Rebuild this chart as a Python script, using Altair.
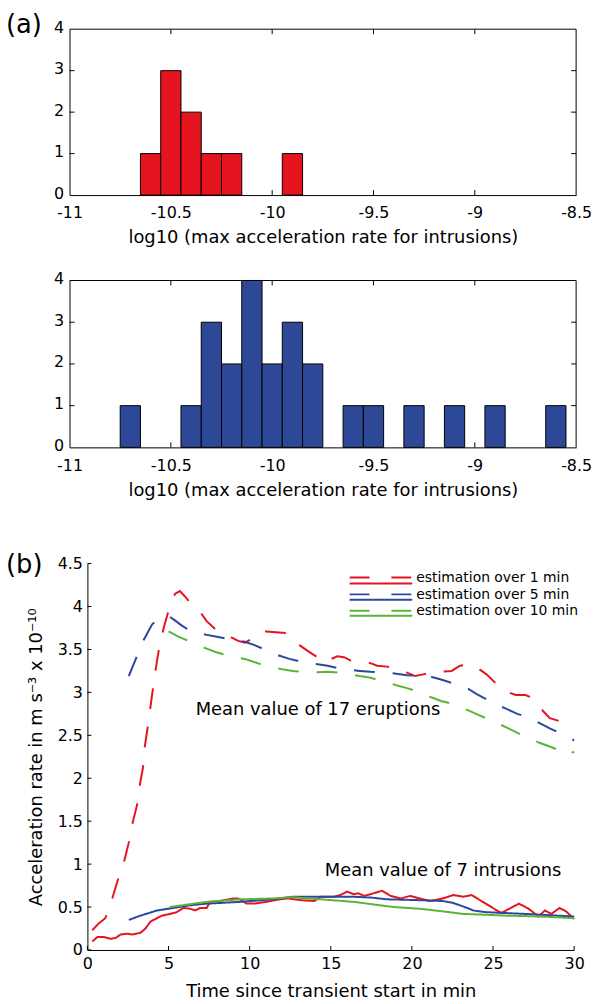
import altair as alt
import pandas as pd

FONT = "DejaVu Sans"
RED = "#e6141e"
BLUE_BAR = "#2e4898"
BLUE = "#2a48a0"
GREEN = "#5cb435"

# ---------------- panel (a): histograms ----------------
hist1_centers = [-10.6, -10.5, -10.4, -10.3, -10.2, -9.9]
hist1_counts = [1, 3, 2, 1, 1, 1]
hist2_centers = [-10.7, -10.4, -10.3, -10.2, -10.1, -10.0, -9.9, -9.8,
                 -9.6, -9.5, -9.3, -9.1, -8.9, -8.6]
hist2_counts = [1, 1, 3, 2, 4, 2, 3, 2, 1, 1, 1, 1, 1, 1]
bin_width = 0.1
hist_xticks = [-11, -10.5, -10, -9.5, -9, -8.5]
hist_yticks = [0, 1, 2, 3, 4]
hist_xtitle = "log10 (max acceleration rate for intrusions)"

# ---------------- panel (b): curves ----------------
e1_t = [0.3, 0.7, 1.1, 1.5, 1.85, 2.25, 2.55, 2.76, 3.06, 3.21, 3.43, 3.53, 3.72, 3.92,
        4.19, 4.39, 4.7, 5.1, 5.41, 5.7, 6.0, 6.3, 6.64, 6.94, 7.35, 7.8, 8.27, 8.78,
        9.29, 9.7, 10.2, 10.6, 11.0, 11.6, 12.25, 12.66, 13.07, 13.6, 14.09, 14.6, 14.9,
        15.41, 15.82, 16.23, 16.8, 17.45, 17.86, 18.47, 19.1, 19.7, 20.2, 20.7, 21.2,
        21.8, 22.45, 22.96, 23.5, 24.0, 24.6, 25.2, 25.8, 26.4, 27.0, 27.5, 28.0, 28.5,
        29.2, 30.0]
e1_v = [0.23, 0.31, 0.37, 0.58, 0.80, 1.02, 1.25, 1.46, 1.69, 1.90, 2.13, 2.36, 2.60, 2.88,
        3.25, 3.48, 3.75, 4.02, 4.15, 4.18, 4.12, 4.05, 4.00, 3.94, 3.83, 3.75, 3.69, 3.65,
        3.60, 3.58, 3.63, 3.70, 3.71, 3.70, 3.69, 3.62, 3.55, 3.48, 3.42, 3.35, 3.38,
        3.42, 3.41, 3.37, 3.35, 3.34, 3.31, 3.30, 3.27, 3.23, 3.19, 3.21, 3.23,
        3.24, 3.25, 3.31, 3.33, 3.29, 3.21, 3.10, 3.01, 2.97, 2.97, 2.93, 2.80, 2.70,
        2.66, 2.58]

e5_t = [2.55, 2.96, 3.47, 3.98, 4.4, 5.0, 5.31, 5.8, 6.23, 6.8, 7.35, 7.9, 8.47, 9.1, 9.7,
        10.3, 10.8, 11.23, 11.8, 12.45, 13.37, 14.1, 14.8, 15.5, 16.23, 16.8, 17.45, 18.58,
        19.7, 20.5, 21.23, 21.8, 22.45, 23.0, 23.48, 24.0, 24.6, 25.2, 25.8, 26.5, 27.3,
        27.9, 28.5, 29.2, 30.0]
e5_v = [3.19, 3.38, 3.61, 3.79, 3.86, 3.89, 3.85, 3.78, 3.73, 3.69, 3.67, 3.65, 3.63, 3.61,
        3.59, 3.55, 3.51, 3.47, 3.43, 3.39, 3.35, 3.33, 3.31, 3.28, 3.26, 3.25, 3.24, 3.23,
        3.20, 3.19, 3.18, 3.15, 3.11, 3.08, 3.04, 2.98, 2.92, 2.86, 2.81, 2.75, 2.70,
        2.64, 2.58, 2.52, 2.44]

e10_t = [5.0, 5.6, 6.23, 6.8, 7.35, 7.9, 8.47, 9.1, 9.7, 10.5, 11.23, 12.0, 12.66, 13.6,
         14.8, 15.5, 16.23, 16.8, 17.45, 18.0, 18.58, 19.1, 19.7, 20.5, 21.23, 21.8, 22.45,
         23.0, 23.48, 24.2, 24.8, 25.4, 25.95, 26.6, 27.3, 27.9, 28.5, 29.0, 29.4, 29.7, 30.0]
e10_v = [3.71, 3.65, 3.60, 3.55, 3.51, 3.47, 3.44, 3.41, 3.39, 3.34, 3.30, 3.27, 3.25, 3.23,
         3.24, 3.23, 3.21, 3.19, 3.17, 3.14, 3.11, 3.08, 3.05, 3.00, 2.94, 2.90, 2.87,
         2.83, 2.79, 2.73, 2.68, 2.63, 2.58, 2.52, 2.46, 2.41, 2.37, 2.33, 2.28, 2.28, 2.31]

i1_t = [0.31, 0.61, 1.02, 1.23, 1.43, 1.74, 2.04, 2.45, 2.76, 3.27, 3.58, 3.88, 4.29, 4.59,
        5.1, 5.5, 5.92, 6.33, 6.64, 6.94, 7.35, 7.56, 8.17, 8.98, 9.29, 9.6, 9.8, 10.3, 11.0,
        11.84, 12.35, 13.17, 13.98, 14.39, 15.2, 15.6, 16.0, 16.4, 16.7, 17.05, 17.45, 18.17,
        18.68, 19.3, 19.9, 20.5, 21.1, 21.9, 22.56, 23.17, 23.68, 24.2, 24.9, 25.5, 26.1,
        26.6, 27.2, 27.8, 28.2, 28.6, 29.1, 29.5, 30.0]
i1_v = [0.10, 0.15, 0.15, 0.14, 0.13, 0.14, 0.18, 0.19, 0.18, 0.20, 0.25, 0.33, 0.37, 0.40,
        0.42, 0.44, 0.49, 0.48, 0.46, 0.49, 0.49, 0.56, 0.57, 0.60, 0.60, 0.57, 0.54, 0.54, 0.56,
        0.59, 0.60, 0.58, 0.57, 0.62, 0.62, 0.64, 0.68, 0.65, 0.66, 0.63, 0.65, 0.69,
        0.63, 0.60, 0.63, 0.60, 0.57, 0.60, 0.64, 0.62, 0.64, 0.58, 0.50, 0.43, 0.49,
        0.54, 0.48, 0.39, 0.46, 0.42, 0.49, 0.45, 0.36]

i5_t = [2.55, 3.27, 4.29, 5.31, 6.3, 7.35, 8.4, 9.39, 10.4, 11.43, 12.66, 14.39, 16.43, 17.5,
        18.47, 20.5, 21.9, 22.5, 22.96, 23.4, 23.78, 24.6, 25.8, 27.0, 28.0, 29.0, 30.0]
i5_v = [0.35, 0.40, 0.46, 0.49, 0.52, 0.54, 0.55, 0.56, 0.575, 0.59, 0.62, 0.62, 0.62, 0.61,
        0.59, 0.58, 0.57, 0.55, 0.52, 0.49, 0.46, 0.44, 0.43, 0.42, 0.41, 0.40, 0.39]

i10_t = [5.06, 6.2, 7.35, 8.4, 9.39, 10.4, 11.43, 12.66, 13.5, 14.39, 15.4, 16.43, 17.66,
         18.88, 20.5, 21.9, 23.17, 24.6, 25.8, 27.0, 28.5, 30.0]
i10_v = [0.50, 0.53, 0.56, 0.575, 0.59, 0.595, 0.60, 0.615, 0.60, 0.59, 0.575, 0.56, 0.53,
         0.50, 0.48, 0.45, 0.42, 0.41, 0.40, 0.395, 0.385, 0.37]

legend_labels = ["estimation over 1 min", "estimation over 5 min", "estimation over 10 min"]
line_colors = [RED, BLUE, GREEN]
b_xticks = [0, 5, 10, 15, 20, 25, 30]
b_yticks = [0, 0.5, 1, 1.5, 2, 2.5, 3, 3.5, 4, 4.5]
b_xtitle = "Time since transient start in min"
b_ytitle = "Acceleration rate in m s\u207b\u00b3 x 10\u207b\u00b9\u2070"
note_erupt = "Mean value of 17 eruptions"
note_intr = "Mean value of 7 intrusions"

ONE = pd.DataFrame({"k": [0]})
TICK = 5


def hist(centers, counts, color, W, H, label):
    df = pd.DataFrame({"center": centers, "count": counts})
    xs = alt.Scale(domain=[-11, -8.5], nice=False, zero=False)
    ys = alt.Scale(domain=[0, 4], nice=False)
    xax = alt.Axis(values=hist_xticks, title=hist_xtitle, labelFlush=False, format="~g",
                   labelExpr="replace(datum.label, '\u2212', '-')",
                   labelPadding=10, titlePadding=8)
    yax = alt.Axis(values=hist_yticks, title="", labelPadding=6, labelOffset=-2)
    xt = pd.DataFrame({"x0": hist_xticks[1:-1]})
    yt = pd.DataFrame({"count": hist_yticks[1:-1]})
    tb = alt.Chart(xt).mark_rule(color="black").encode(
        x=alt.X("x0:Q", scale=xs, axis=xax), y=alt.value(H), y2=alt.value(H - TICK))
    tt = alt.Chart(xt).mark_rule(color="black").encode(
        x=alt.X("x0:Q", scale=xs, axis=xax), y=alt.value(0), y2=alt.value(TICK))
    tl = alt.Chart(yt).mark_rule(color="black").encode(
        y=alt.Y("count:Q", scale=ys, axis=yax), x=alt.value(0), x2=alt.value(TICK))
    tr = alt.Chart(yt).mark_rule(color="black").encode(
        y=alt.Y("count:Q", scale=ys, axis=yax), x=alt.value(W), x2=alt.value(W - TICK))
    bars = alt.Chart(df).transform_calculate(
        x0=f"datum.center - {bin_width / 2}",
        x1=f"datum.center + {bin_width / 2}",
    ).mark_bar(fill=color, stroke="black", strokeWidth=1, opacity=1).encode(
        x=alt.X("x0:Q", scale=xs, axis=xax),
        x2="x1:Q",
        y=alt.Y("count:Q", scale=ys, axis=yax),
        y2=alt.datum(0),
    )
    box_top = alt.Chart(ONE).mark_rule(color="black").encode(
        x=alt.value(0), x2=alt.value(W), y=alt.value(0))
    box_right = alt.Chart(ONE).mark_rule(color="black").encode(
        x=alt.value(W), y=alt.value(0), y2=alt.value(H))
    layers = [tb, tt, tl, tr, bars, box_top, box_right]
    if label:
        layers.append(alt.Chart(ONE).mark_text(
            align="left", baseline="middle", font=FONT, fontSize=26).encode(
            x=alt.value(-64), y=alt.value(-4), text=alt.value(label)))
    return alt.layer(*layers).properties(width=W, height=H)


W1 = 510
top = hist(hist1_centers, hist1_counts, RED, W1, 167, "(a)")
mid = hist(hist2_centers, hist2_counts, BLUE_BAR, W1, 168, "")

# ---------------- bottom panel ----------------
WB, HB, OFF = 508, 389, 18
rows = []
for kind, est, ts, vs in [
    ("eruptions", "1 min", e1_t, e1_v), ("eruptions", "5 min", e5_t, e5_v),
    ("eruptions", "10 min", e10_t, e10_v), ("intrusions", "1 min", i1_t, i1_v),
    ("intrusions", "5 min", i5_t, i5_v), ("intrusions", "10 min", i10_t, i10_v),
]:
    for t, v in zip(ts, vs):
        rows.append({"kind": kind, "est": est, "series": kind + est, "t": t, "v": v})
df_lines = pd.DataFrame(rows)

xs_b = alt.Scale(domain=[0, 30], nice=False, zero=False, range=[OFF, WB])
ys_b = alt.Scale(domain=[0, 4.5], nice=False)
bx_ax = alt.Axis(values=b_xticks, title=b_xtitle, labelFlush=False,
                 labelPadding=6, titlePadding=11)
by_ax = alt.Axis(values=b_yticks, title=b_ytitle, format="~g", offset=-OFF,
                 labelPadding=5, titlePadding=12)

lines = alt.Chart(df_lines).mark_line(strokeWidth=2).encode(
    x=alt.X("t:Q", scale=xs_b, axis=bx_ax),
    y=alt.Y("v:Q", scale=ys_b, axis=by_ax),
    color=alt.Color("est:N", scale=alt.Scale(domain=["1 min", "5 min", "10 min"],
                                             range=line_colors), legend=None),
    strokeDash=alt.StrokeDash("kind:N", scale=alt.Scale(domain=["eruptions", "intrusions"],
                                                        range=[[21, 18], [1, 0]]),
                              legend=None),
    detail="series:N",
    order="t:Q",
)
bxt = pd.DataFrame({"t": b_xticks})
byt = pd.DataFrame({"v": b_yticks})
b_tick_x = alt.Chart(bxt).mark_rule(color="black").encode(
    x=alt.X("t:Q", scale=xs_b, axis=bx_ax), y=alt.value(HB), y2=alt.value(HB - 4))
b_tick_y = alt.Chart(byt).mark_rule(color="black").encode(
    y=alt.Y("v:Q", scale=ys_b, axis=by_ax), x=alt.value(OFF), x2=alt.value(OFF + 4))

blayers = [b_tick_x, b_tick_y, lines]
leg_y = [(14, 20, 15), (31, 36.5, 31.5), (47.5, 52.5, 48)]
for lab, col, (yd, ys_, yt_) in zip(legend_labels, line_colors, leg_y):
    blayers.append(alt.Chart(ONE).mark_rule(color=col, strokeWidth=2, strokeDash=[20, 22]).encode(
        x=alt.value(282), x2=alt.value(345), y=alt.value(yd)))
    blayers.append(alt.Chart(ONE).mark_rule(color=col, strokeWidth=2).encode(
        x=alt.value(282), x2=alt.value(345), y=alt.value(ys_)))
    blayers.append(alt.Chart(ONE).mark_text(align="left", baseline="middle", font=FONT,
                                            fontSize=14, color="black").encode(
        x=alt.value(349), y=alt.value(yt_), text=alt.value(lab)))
blayers.append(alt.Chart(ONE).mark_text(align="left", baseline="middle", font=FONT,
                                        fontSize=18, color="black").encode(
    x=alt.value(127), y=alt.value(147), text=alt.value(note_erupt)))
blayers.append(alt.Chart(ONE).mark_text(align="left", baseline="middle", font=FONT,
                                        fontSize=18, color="black").encode(
    x=alt.value(257), y=alt.value(310), text=alt.value(note_intr)))
blayers.append(alt.Chart(ONE).mark_text(align="left", baseline="middle", font=FONT,
                                        fontSize=26, color="black").encode(
    x=alt.value(-64), y=alt.value(1), text=alt.value("(b)")))
# invisible spacer to open the gap above panel (b)
blayers.append(alt.Chart(ONE).mark_text(align="left", baseline="top", font=FONT,
                                        fontSize=12, opacity=0).encode(
    x=alt.value(-64), y=alt.value(-40), text=alt.value("(b)")))

bottom = alt.layer(*blayers).properties(width=WB, height=HB)

chart = alt.vconcat(top, mid, bottom, spacing=22).properties(
    padding={"left": 5, "top": 8, "right": 0, "bottom": 0}
).configure_view(stroke="transparent").configure_axis(
    labelFont=FONT, titleFont=FONT, labelFontSize=16, titleFontSize=18,
    titleFontWeight="normal", labelColor="black", titleColor="black",
    domainColor="black", domainWidth=1, grid=False, ticks=False,
)

chart.save("out.html", embed_options={"renderer": "svg", "actions": False})
